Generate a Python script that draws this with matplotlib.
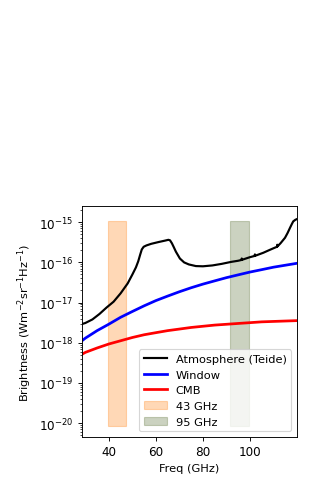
import numpy as np
import matplotlib
matplotlib.use("Agg")
import matplotlib.pyplot as plt

# atmosphere brightness (Teide)
freq_atm = [28.4, 30, 33, 36, 39, 42, 45, 48, 50, 51.5, 52.5, 53.3, 54.0, 54.8, 56, 58, 61, 64,
            65.3, 66.0, 66.8, 67.6, 68.5, 70.2, 72, 74, 77, 80, 84, 88, 92, 95, 96.4, 96.5,
            96.6, 100, 102, 102.1, 102.2, 105.7, 108, 110, 111.5, 111.6, 111.7, 113, 114.9,
            116, 117, 117.8, 118.4, 119.3, 120]
atm = [2.9e-18, 3.1e-18, 3.8e-18, 5.2e-18, 7.5e-18, 1.05e-17, 1.7e-17, 3.0e-17, 5.0e-17,
       7.5e-17, 1.07e-16, 1.55e-16, 2.1e-16, 2.45e-16, 2.65e-16, 2.9e-16, 3.2e-16, 3.5e-16,
       3.65e-16, 3.55e-16, 3.0e-16, 2.4e-16, 1.85e-16, 1.25e-16, 1.0e-16, 8.9e-17, 8.1e-17,
       8.0e-17, 8.4e-17, 9.2e-17, 1.03e-16, 1.1e-16, 1.15e-16, 1.25e-16, 1.16e-16, 1.35e-16,
       1.45e-16, 1.58e-16, 1.46e-16, 1.74e-16, 2.0e-16, 2.25e-16, 2.45e-16, 2.75e-16, 2.5e-16,
       3.0e-16, 4.1e-16, 5.4e-16, 7.2e-16, 9.0e-16, 1.05e-15, 1.15e-15, 1.2e-15]

freq = [28.4, 30, 35, 40, 45, 50, 55, 60, 65, 70, 75, 80, 85, 90, 95, 100, 105, 110, 115, 120]
window = [1.1e-18, 1.3e-18, 2.0e-18, 2.9e-18, 4.3e-18, 6.0e-18, 8.3e-18, 1.12e-17, 1.45e-17,
          1.86e-17, 2.34e-17, 2.88e-17, 3.47e-17, 4.17e-17, 4.9e-17, 5.75e-17, 6.6e-17,
          7.6e-17, 8.5e-17, 9.5e-17]
cmb = [5.1e-19, 5.75e-19, 7.4e-19, 9.3e-19, 1.12e-18, 1.35e-18, 1.58e-18, 1.78e-18, 2.0e-18,
       2.19e-18, 2.4e-18, 2.57e-18, 2.75e-18, 2.88e-18, 3.02e-18, 3.16e-18, 3.31e-18,
       3.39e-18, 3.47e-18, 3.55e-18]

band_43 = [39.5, 47.3]
band_95 = [91.5, 99.5]
band_y = [8.5e-21, 1.1e-15]

fig = plt.figure(figsize=(329/82, 493/82), dpi=82)
ax = fig.add_axes([0.248, 0.1116, 0.654, 0.468])

ax.plot(freq_atm, atm, color='black', lw=1.9, label='Atmosphere (Teide)')
ax.plot(freq, window, color='blue', lw=2.4, label='Window')
ax.plot(freq, cmb, color='red', lw=2.4, label='CMB')
ax.fill_between(band_43, band_y[0], band_y[1], color='C1', alpha=0.3, label='43 GHz')
ax.fill_between(band_95, band_y[0], band_y[1], color='darkolivegreen', alpha=0.3, label='95 GHz')

ax.set_yscale('log')
ax.set_xlim(28.4, 119.9)
ax.set_ylim(4.5e-21, 2.5e-15)
ax.set_xticks([40, 60, 80, 100])
ax.tick_params(labelsize=10.5)
ax.set_xlabel('Freq (GHz)')
ax.set_ylabel(r'Brightness (Wm$^{-2}$sr$^{-1}$Hz$^{-1}$)')
ax.legend(loc='lower right')

fig.savefig('out.png', dpi=82)
